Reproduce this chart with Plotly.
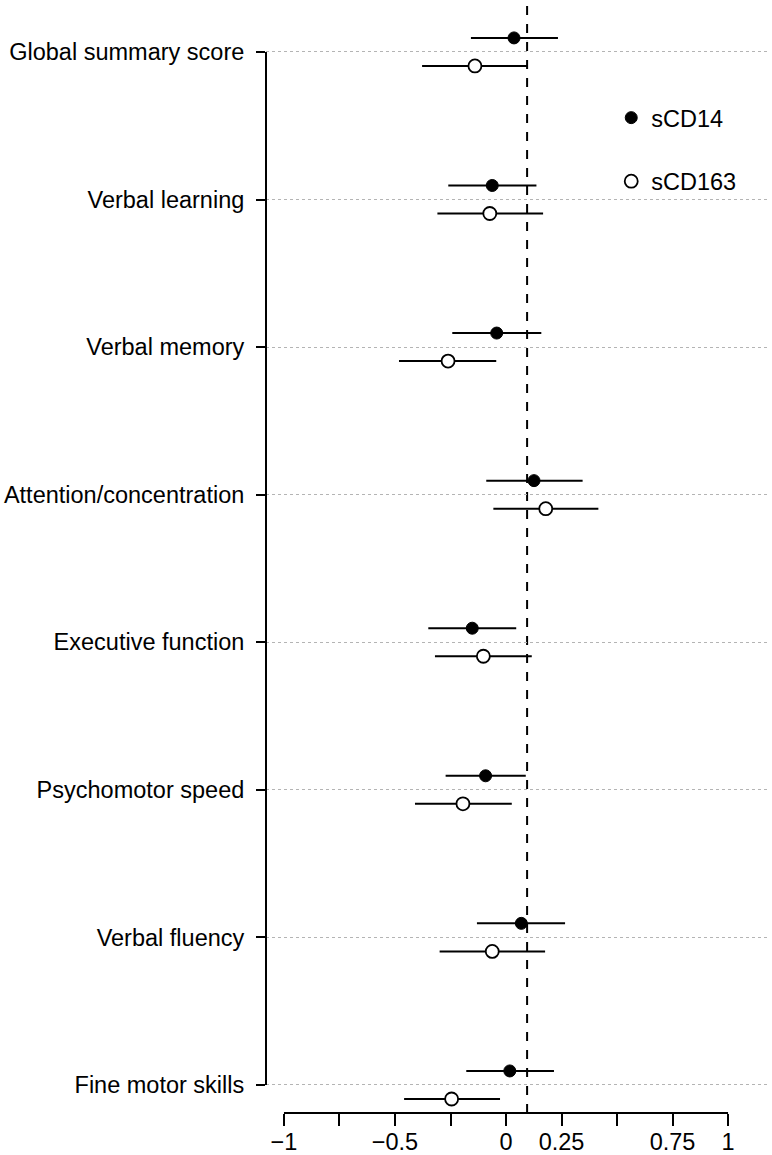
import plotly.graph_objects as go

categories = ["Global summary score", "Verbal learning", "Verbal memory",
              "Attention/concentration", "Executive function", "Psychomotor speed",
              "Verbal fluency", "Fine motor skills"]

scd14_est = [0.036, -0.062, -0.042, 0.126, -0.152, -0.092, 0.069, 0.017]
scd14_lo = [-0.158, -0.260, -0.242, -0.089, -0.350, -0.272, -0.131, -0.179]
scd14_hi = [0.234, 0.137, 0.159, 0.345, 0.046, 0.089, 0.266, 0.216]

scd163_est = [-0.140, -0.073, -0.261, 0.179, -0.102, -0.194, -0.062, -0.245]
scd163_lo = [-0.378, -0.309, -0.482, -0.057, -0.320, -0.410, -0.299, -0.459]
scd163_hi = [0.095, 0.167, -0.044, 0.416, 0.116, 0.026, 0.176, -0.027]

ref_line = 0.095
x_tickvals = [-1, -0.75, -0.5, -0.25, 0, 0.25, 0.5, 0.75, 1]
x_ticktext = ["\u22121", "", "\u22120.5", "", "0", "0.25", "", "0.75", "1"]

offset = 0.095
pos = list(range(len(categories)))

FONT = "Liberation Sans, Arial, sans-serif"
FS = 23.5

fig = go.Figure()
fig.add_trace(go.Scatter(
    x=scd14_est, y=[p - offset for p in pos], mode="markers", name="sCD14",
    legendgroup="a",
    marker=dict(symbol="circle", size=12, color="black", line=dict(color="black", width=1)),
    error_x=dict(type="data", symmetric=False,
                 array=[h - e for h, e in zip(scd14_hi, scd14_est)],
                 arrayminus=[e - l for e, l in zip(scd14_est, scd14_lo)],
                 width=0, thickness=2, color="black"),
))
fig.add_trace(go.Scatter(
    x=scd163_est, y=[p + offset for p in pos], mode="markers", name="sCD163",
    legendgroup="b",
    marker=dict(symbol="circle", size=13, color="white", line=dict(color="black", width=1.8)),
    error_x=dict(type="data", symmetric=False,
                 array=[h - e for h, e in zip(scd163_hi, scd163_est)],
                 arrayminus=[e - l for e, l in zip(scd163_est, scd163_lo)],
                 width=0, thickness=2, color="black"),
))

# reference dashed line
fig.add_shape(type="line", xref="x", yref="paper", x0=ref_line, x1=ref_line, y0=0, y1=1,
              line=dict(color="black", width=2, dash="dash"), layer="below")
# x axis line from -1 to 1
fig.add_shape(type="line", xref="x", yref="paper", x0=-1, x1=1, y0=0, y1=0,
              line=dict(color="black", width=2))
# y axis line from first to last category
fig.add_shape(type="line", xref="paper", yref="y", x0=0, x1=0, y0=pos[0], y1=pos[-1],
              line=dict(color="black", width=2))

fig.update_layout(
    width=772, height=1155,
    margin=dict(l=266, r=2, t=5, b=42, autoexpand=False),
    plot_bgcolor="white", paper_bgcolor="white",
    font=dict(family=FONT, size=FS, color="black"),
    showlegend=True,
    legend=dict(x=0.685, y=0.918, xanchor="left", yanchor="top",
                traceorder="grouped", tracegroupgap=30,
                font=dict(size=FS), bgcolor="rgba(0,0,0,0)"),
    xaxis=dict(range=[-1.081, 1.189], tickvals=x_tickvals, ticktext=x_ticktext,
               ticks="outside", ticklen=12, tickwidth=2, tickcolor="black",
               ticklabelstandoff=-4,
               showline=False, showgrid=False, zeroline=False, automargin=False,
               tickfont=dict(size=FS)),
    yaxis=dict(range=[7.19, -0.318], tickvals=pos, ticktext=categories,
               ticks="outside", ticklen=9, tickwidth=2, tickcolor="black",
               ticklabelstandoff=7, automargin=False,
               showline=False, showgrid=True, gridcolor="#b4b4b4", gridwidth=1,
               griddash="dot", zeroline=False, tickfont=dict(size=FS)),
)

fig.write_html("out.html", config={"displayModeBar": False},
               post_script="document.body.style.margin='0';")
